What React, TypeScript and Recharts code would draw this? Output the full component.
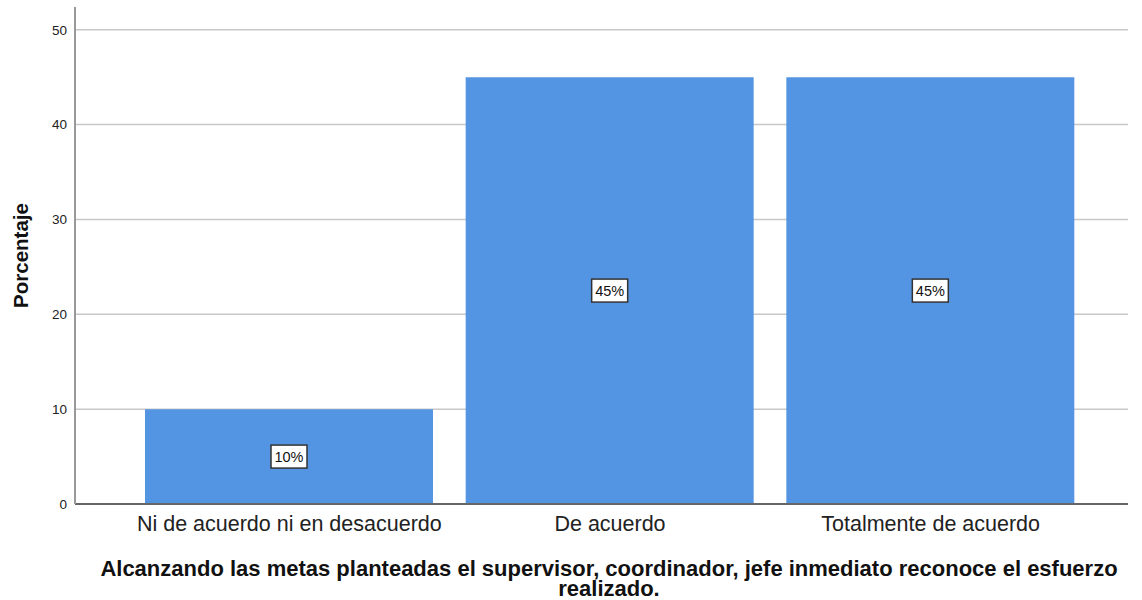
import React from 'react';
import { BarChart, Bar, XAxis, YAxis, CartesianGrid, LabelList, Label } from 'recharts';

const categories = ['Ni de acuerdo ni en desacuerdo', 'De acuerdo', 'Totalmente de acuerdo'];
const percentages = [10, 45, 45];
const yTicks = [0, 10, 20, 30, 40, 50];
const yMax = 52.4;

const titleLines = [
  'Alcanzando las metas planteadas el supervisor, coordinador, jefe inmediato reconoce el esfuerzo',
  'realizado.',
];

const data = categories.map((name, i) => ({ name, value: percentages[i] }));

const FONT = '"Liberation Sans", Arial, sans-serif';
const BAR_COLOR = '#5495e3';

// grid rows at the y ticks only (no line along the top edge of the plot)
const gridRows = ({ yAxis, offset }: any) =>
  yTicks.slice(1).map((t) => {
    const s = yAxis && yAxis.scale;
    if (typeof s === 'function') return s(t);
    if (s && typeof s.map === 'function') return s.map(t);
    return offset.top + offset.height * (1 - t / yMax);
  });

const ValueBox = (props: any) => {
  const { x, y, width, height, value } = props;
  const cx = x + width / 2;
  const cy = y + height / 2;
  const w = 36;
  const h = 23;
  return (
    <g>
      <rect x={cx - w / 2} y={cy - h / 2} width={w} height={h} fill="#fff" stroke="#333" strokeWidth={1.5} />
      <text x={cx} y={cy + 5} textAnchor="middle" fontFamily={FONT} fontSize={14.5} fill="#111">
        {`${value}%`}
      </text>
    </g>
  );
};

const YTitle = (props: any) => {
  const { viewBox } = props;
  const cy = viewBox.y + viewBox.height / 2;
  return (
    <text
      x={28}
      y={cy}
      transform={`rotate(-90, 28, ${cy})`}
      textAnchor="middle"
      fontFamily={FONT}
      fontSize={20.5}
      fontWeight="bold"
      fill="#111"
    >
      Porcentaje
    </text>
  );
};

const XTitle = () => (
  <text textAnchor="middle" fontFamily={FONT} fontSize={22} fontWeight="bold" fill="#111">
    {titleLines.map((line, i) => (
      <tspan key={i} x={609} y={576 + i * 20}>
        {line}
      </tspan>
    ))}
  </text>
);

export default function App() {
  return (
    <div style={{ position: 'absolute', left: 0, top: 0, background: '#fff' }}>
      <BarChart
        width={1142}
        height={600}
        data={data}
        margin={{ top: 7, right: 14, bottom: 0, left: 0 }}
        barSize={288}
      >
        <CartesianGrid vertical={false} stroke="#c8c8c8" strokeWidth={1.5} horizontalCoordinatesGenerator={gridRows} />
        <XAxis
          dataKey="name"
          height={96}
          padding={{ left: 54, right: 37 }}
          tickLine={false}
          tickSize={0}
          tickMargin={12}
          axisLine={{ stroke: '#666', strokeWidth: 2 }}
          tick={{ fontFamily: FONT, fontSize: 21.5, fill: '#222' }}
          interval={0}
        >
          <Label content={<XTitle />} />
        </XAxis>
        <YAxis
          width={75}
          domain={[0, yMax]}
          ticks={yTicks}
          tickLine={false}
          tickSize={0}
          tickMargin={8}
          axisLine={{ stroke: '#999', strokeWidth: 2 }}
          tick={{ fontFamily: FONT, fontSize: 13.5, fill: '#222' }}
        >
          <Label content={<YTitle />} />
        </YAxis>
        <Bar dataKey="value" fill={BAR_COLOR} isAnimationActive={false}>
          <LabelList dataKey="value" content={<ValueBox />} />
        </Bar>
      </BarChart>
    </div>
  );
}
